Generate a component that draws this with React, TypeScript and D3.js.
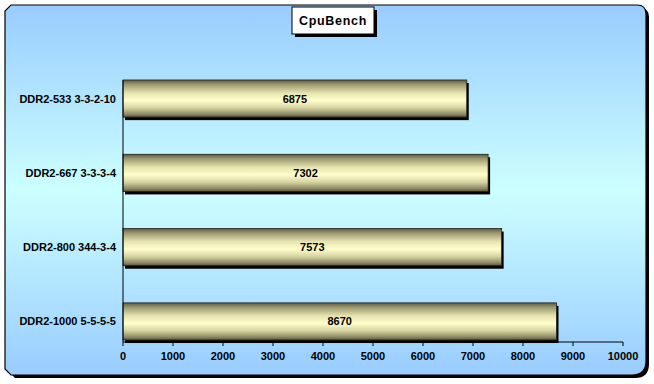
import React from "react";
import * as d3 from "d3";

const categories = ["DDR2-533 3-3-2-10", "DDR2-667 3-3-3-4", "DDR2-800 344-3-4", "DDR2-1000 5-5-5-5"];
const values = [6875, 7302, 7573, 8670];
const ticks = [0, 1000, 2000, 3000, 4000, 5000, 6000, 7000, 8000, 9000, 10000];
const title = "CpuBench";

const W = 654, H = 384;
const font = "'Liberation Sans', Arial, sans-serif";

function framePath(x0: number, y0: number, x1: number, y1: number) {
  const tl = 6, tr = 9, br = 14, bl = 6;
  return `M${x0 + tl},${y0} L${x1 - tr},${y0} Q${x1},${y0} ${x1},${y0 + tr} L${x1},${y1 - br} Q${x1},${y1} ${x1 - br},${y1} L${x0 + bl},${y1} L${x0},${y1 - bl} L${x0},${y0 + tl} Z`;
}

export default function App() {
  const x = d3.scaleLinear().domain([0, 10000]).range([123, 623]);
  const y = d3.scaleBand<string>().domain(categories).range([61.4, 358.6]).paddingInner(0.5).paddingOuter(0.25);
  const axisY = 342;
  const bw = y.bandwidth();
  return (
    <svg width={W} height={H} style={{ position: "absolute", left: 0, top: 0 }}>
      <defs>
        <linearGradient id="bg" x1="0" y1="0" x2="0" y2="1">
          <stop offset="0" stopColor="#99ccff" />
          <stop offset="0.5" stopColor="#ccffff" />
          <stop offset="1" stopColor="#99ccff" />
        </linearGradient>
        <linearGradient id="bar" x1="0" y1="0" x2="0" y2="1">
          <stop offset="0" stopColor="#5e5a3c" />
          <stop offset="0.12" stopColor="#9c9870" />
          <stop offset="0.35" stopColor="#e6e4b0" />
          <stop offset="0.55" stopColor="#ffffcc" />
          <stop offset="0.75" stopColor="#d6d4a2" />
          <stop offset="0.92" stopColor="#8e8a64" />
          <stop offset="1" stopColor="#5a5638" />
        </linearGradient>
      </defs>
      <rect x={0} y={0} width={W} height={H} fill="#ffffff" />
      <path d={framePath(9, 8, 649, 378)} fill="#000" />
      <path d={framePath(5, 5, 646, 375)} fill="url(#bg)" stroke="#000" strokeWidth={1.2} />
      {/* title */}
      <rect x={295} y={10} width={82} height={27} fill="#000" />
      <rect x={292} y={7} width={82} height={27} fill="#fff" stroke="#000" strokeWidth={1} />
      <text x={333} y={25} textAnchor="middle" fontFamily={font} fontWeight="bold" fontSize={12.5} letterSpacing={0.7}>{title}</text>
      {/* bars */}
      {categories.map((c, i) => {
        const y0 = y(c)!;
        const x1 = x(values[i]);
        return (
          <g key={c}>
            <rect x={x(0) + 2} y={y0 + 3} width={x1 - x(0)} height={bw} fill="#000" />
            <rect x={x(0)} y={y0} width={x1 - x(0)} height={bw} fill="url(#bar)" stroke="#222" strokeWidth={0.8} />
            <text x={(x(0) + x1) / 2} y={y0 + bw / 2 + 4} textAnchor="middle" fontFamily={font} fontWeight="bold" fontSize={11}>{values[i]}</text>
            <text x={116} y={y0 + bw / 2 + 4} textAnchor="end" fontFamily={font} fontWeight="bold" fontSize={11}>{c}</text>
          </g>
        );
      })}
      {/* axes */}
      <line x1={x(0)} x2={x(0)} y1={y(categories[0])!} y2={axisY} stroke="#000" strokeWidth={1} />
      <line x1={x(0)} x2={x(10000)} y1={axisY} y2={axisY} stroke="#000" strokeWidth={1} />
      {ticks.map((t) => (
        <g key={t}>
          <line x1={x(t)} x2={x(t)} y1={axisY} y2={axisY + 4} stroke="#000" strokeWidth={1} />
          <text x={x(t)} y={axisY + 18} textAnchor="middle" fontFamily={font} fontWeight="bold" fontSize={11}>{t}</text>
        </g>
      ))}
    </svg>
  );
}
